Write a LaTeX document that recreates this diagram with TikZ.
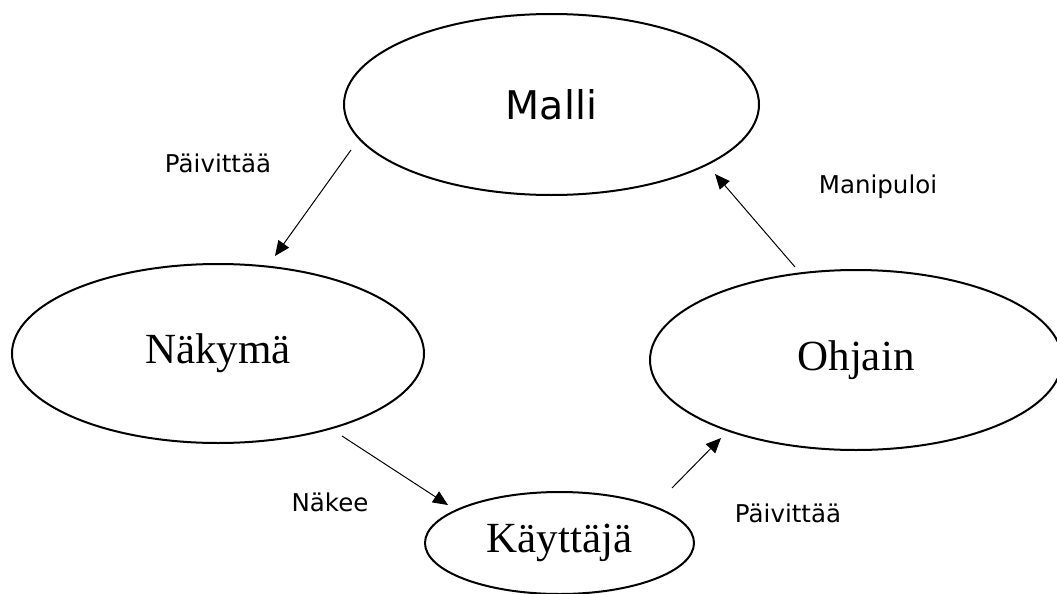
\documentclass[tikz,border=0pt]{standalone}
\usepackage{fontspec}
\setmainfont{Liberation Serif}
\newfontfamily\labelfont{DejaVu Sans}
\usetikzlibrary{shapes.geometric,arrows.meta}
\tikzset{
  oval/.style={draw, ellipse, line width=2pt, inner sep=0pt},
  bigserif/.style={font=\fontsize{43}{50}\selectfont},
  lbl/.style={font=\labelfont\fontsize{24.5}{29}\selectfont, inner sep=0pt},
  conn/.style={line width=1pt, -{Triangle[length=15pt,width=13pt]}}
}
\begin{document}
\begin{tikzpicture}[x=1pt,y=-1pt]
\useasboundingbox (0,0) rectangle (1057,594);
\node[oval, minimum width=415pt, minimum height=181pt, font=\labelfont\fontsize{39.5}{46}\selectfont] (malli) at (551.5,104.5) {Malli};
\node[oval, bigserif, minimum width=412pt, minimum height=179pt] (nakyma) at (218,353.5) {Näkymä};
\node[oval, bigserif, minimum width=412pt, minimum height=180pt] (ohjain) at (856,360) {Ohjain};
\node[oval, bigserif, minimum width=269pt, minimum height=102pt] (kayttaja) at (559.5,543) {Käyttäjä};

\coordinate (a1s) at (351,150);
\coordinate (a1e) at (275,256);
\coordinate (a2s) at (795,267);
\coordinate (a2e) at (715,174);
\coordinate (a3s) at (342,436);
\coordinate (a3e) at (448,505);
\coordinate (a4s) at (672,488);
\coordinate (a4e) at (721,438);

\draw[conn] (a1s) -- (a1e);
\draw[conn] (a2s) -- (a2e);
\draw[conn] (a3s) -- (a3e);
\draw[conn] (a4s) -- (a4e);

\node[lbl] (l1) at (218,163) {Päivittää};
\node[lbl] (l2) at (878,187) {Manipuloi};
\node[lbl] (l3) at (330,502) {Näkee};
\node[lbl] (l4) at (788,513) {Päivittää};
\end{tikzpicture}
\end{document}
